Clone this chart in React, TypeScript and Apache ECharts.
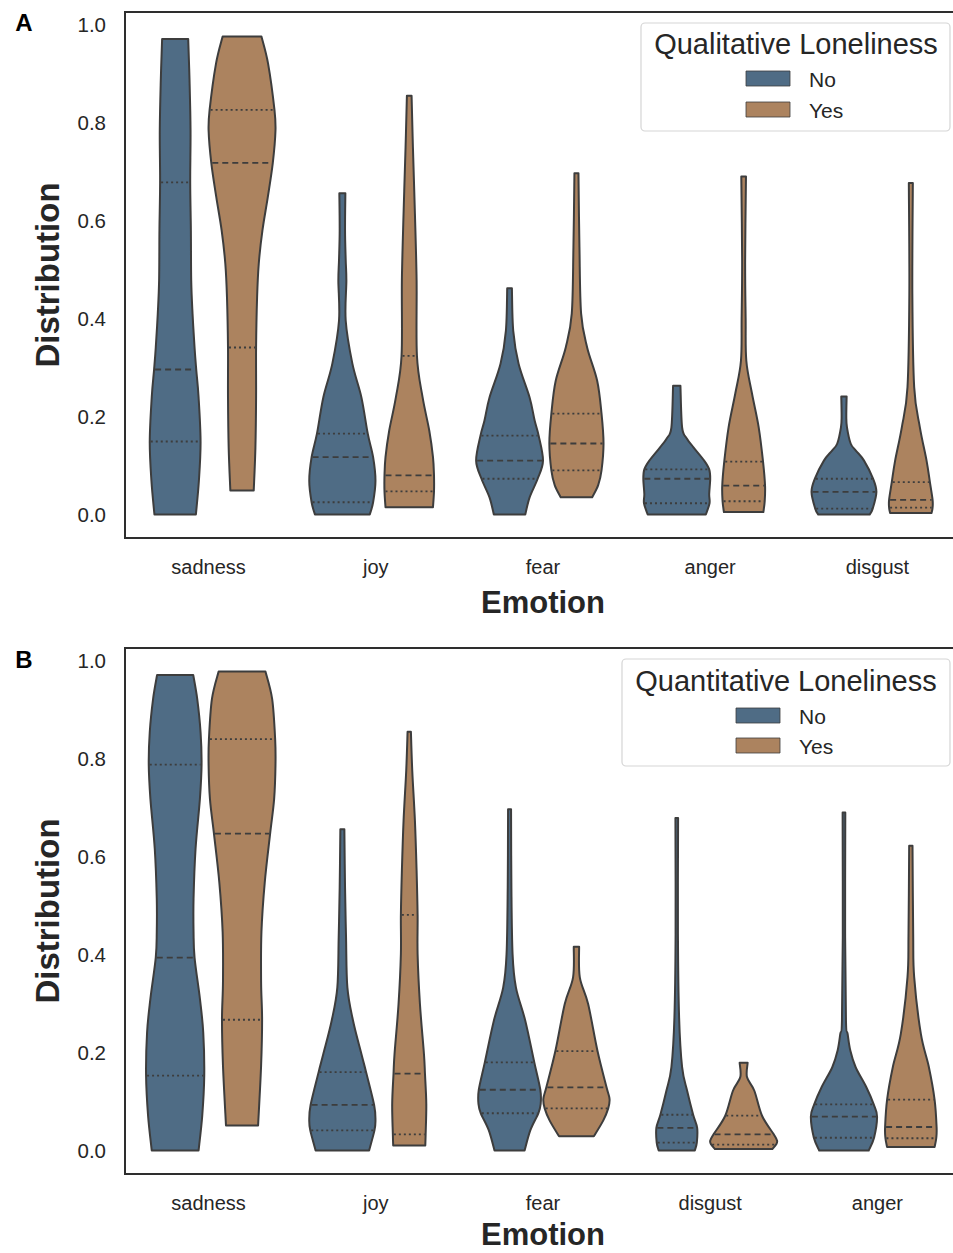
import { useEffect, useRef } from 'react';
import * as echarts from 'echarts';

type Profile = [number, number][]; // [value, relative half-width]

const CATEGORIES_A = ['sadness', 'joy', 'fear', 'anger', 'disgust'];
const CATEGORIES_B = ['sadness', 'joy', 'fear', 'disgust', 'anger'];
const HUES = ['No', 'Yes'];
const Y_TICKS = [0, 0.2, 0.4, 0.6, 0.8, 1.0];

// Panel A (Qualitative Loneliness) — density profiles, top to bottom
const A_NO_PROFILES: Profile[] = [
  [[0.971, 0.39], [0.886, 0.43], [0.784, 0.46], [0.678, 0.45], [0.58, 0.47], [0.478, 0.48], [0.41, 0.52], [0.341, 0.58], [0.296, 0.63], [0.24, 0.7], [0.149, 0.76], [0.069, 0.71], [0.0, 0.62]],
  [[0.656, 0.09], [0.58, 0.08], [0.52, 0.1], [0.478, 0.12], [0.396, 0.1], [0.308, 0.3], [0.239, 0.57], [0.165, 0.76], [0.117, 0.92], [0.069, 0.99], [0.025, 0.92], [0.0, 0.82]],
  [[0.462, 0.07], [0.375, 0.11], [0.308, 0.27], [0.239, 0.6], [0.192, 0.75], [0.161, 0.87], [0.11, 1.0], [0.073, 0.84], [0.035, 0.6], [0.0, 0.47]],
  [[0.263, 0.11], [0.178, 0.16], [0.155, 0.3], [0.137, 0.5], [0.11, 0.82], [0.092, 0.97], [0.073, 1.0], [0.042, 0.97], [0.023, 0.98], [0.0, 0.87]],
  [[0.241, 0.08], [0.2, 0.07], [0.178, 0.09], [0.145, 0.2], [0.131, 0.35], [0.11, 0.6], [0.073, 0.87], [0.046, 0.97], [0.012, 0.86], [0.0, 0.77]],
];
const A_YES_PROFILES: Profile[] = [
  [[0.976, 0.58], [0.92, 0.78], [0.826, 0.97], [0.784, 1.0], [0.718, 0.92], [0.648, 0.77], [0.58, 0.61], [0.512, 0.5], [0.443, 0.45], [0.341, 0.42], [0.24, 0.42], [0.137, 0.4], [0.049, 0.35]],
  [[0.855, 0.07], [0.75, 0.11], [0.614, 0.17], [0.478, 0.22], [0.324, 0.23], [0.239, 0.4], [0.171, 0.6], [0.117, 0.71], [0.08, 0.74], [0.047, 0.74], [0.015, 0.71]],
  [[0.697, 0.06], [0.546, 0.09], [0.41, 0.14], [0.341, 0.32], [0.273, 0.62], [0.206, 0.75], [0.145, 0.81], [0.09, 0.75], [0.06, 0.65], [0.035, 0.47]],
  [[0.69, 0.07], [0.518, 0.045], [0.4, 0.06], [0.314, 0.08], [0.247, 0.25], [0.178, 0.45], [0.108, 0.58], [0.059, 0.64], [0.027, 0.63], [0.005, 0.59]],
  [[0.677, 0.06], [0.45, 0.045], [0.26, 0.1], [0.178, 0.27], [0.11, 0.47], [0.066, 0.57], [0.03, 0.65], [0.014, 0.65], [0.003, 0.62]],
];
// [Q1, median, Q3]
const A_NO_QUARTILES = [[0.149, 0.296, 0.678], [0.025, 0.117, 0.165], [0.073, 0.11, 0.161], [0.023, 0.073, 0.092], [0.012, 0.046, 0.073]];
const A_YES_QUARTILES = [[0.341, 0.718, 0.826], [0.047, 0.08, 0.324], [0.09, 0.145, 0.206], [0.027, 0.059, 0.108], [0.014, 0.03, 0.066]];

// Panel B (Quantitative Loneliness)
const B_NO_PROFILES: Profile[] = [
  [[0.971, 0.54], [0.922, 0.66], [0.854, 0.76], [0.788, 0.79], [0.718, 0.74], [0.616, 0.61], [0.514, 0.55], [0.446, 0.55], [0.394, 0.58], [0.31, 0.74], [0.241, 0.84], [0.153, 0.87], [0.071, 0.81], [0.0, 0.7]],
  [[0.656, 0.06], [0.537, 0.08], [0.435, 0.11], [0.333, 0.15], [0.265, 0.32], [0.197, 0.57], [0.16, 0.71], [0.093, 0.95], [0.061, 0.99], [0.041, 0.96], [0.0, 0.8]],
  [[0.697, 0.045], [0.537, 0.055], [0.401, 0.09], [0.333, 0.19], [0.265, 0.47], [0.18, 0.74], [0.124, 0.92], [0.095, 0.93], [0.076, 0.86], [0.041, 0.62], [0.0, 0.45]],
  [[0.679, 0.04], [0.442, 0.035], [0.272, 0.07], [0.17, 0.16], [0.122, 0.31], [0.073, 0.49], [0.046, 0.61], [0.016, 0.6], [0.0, 0.54]],
  [[0.69, 0.04], [0.442, 0.035], [0.265, 0.06], [0.238, 0.11], [0.204, 0.19], [0.17, 0.35], [0.129, 0.67], [0.094, 0.89], [0.069, 0.99], [0.026, 0.9], [0.0, 0.74]],
];
const B_YES_PROFILES: Profile[] = [
  [[0.978, 0.7], [0.922, 0.9], [0.84, 0.99], [0.786, 1.0], [0.718, 0.96], [0.647, 0.84], [0.548, 0.68], [0.446, 0.58], [0.344, 0.57], [0.267, 0.6], [0.173, 0.57], [0.051, 0.48]],
  [[0.855, 0.05], [0.776, 0.09], [0.673, 0.17], [0.571, 0.22], [0.481, 0.25], [0.401, 0.25], [0.299, 0.32], [0.197, 0.44], [0.157, 0.47], [0.095, 0.51], [0.033, 0.49], [0.01, 0.48]],
  [[0.416, 0.08], [0.354, 0.1], [0.299, 0.35], [0.203, 0.63], [0.129, 0.9], [0.105, 0.99], [0.086, 0.95], [0.061, 0.8], [0.029, 0.52]],
  [[0.179, 0.12], [0.15, 0.1], [0.122, 0.32], [0.071, 0.55], [0.033, 0.9], [0.02, 1.0], [0.012, 0.97], [0.003, 0.86]],
  [[0.622, 0.05], [0.442, 0.07], [0.354, 0.1], [0.238, 0.3], [0.17, 0.54], [0.104, 0.71], [0.048, 0.77], [0.025, 0.76], [0.007, 0.71]],
];
const B_NO_QUARTILES = [[0.153, 0.394, 0.788], [0.041, 0.093, 0.16], [0.076, 0.124, 0.18], [0.016, 0.046, 0.073], [0.026, 0.069, 0.094]];
const B_YES_QUARTILES = [[0.267, 0.647, 0.84], [0.033, 0.157, 0.481], [0.086, 0.129, 0.203], [0.012, 0.033, 0.071], [0.025, 0.048, 0.104]];

const COLORS = ['#4f6c85', '#ac835f'];
const EDGE = '#3d3d3d';
const TEXT = '#262626';
const FONT = '"Liberation Sans", Arial, sans-serif';
const DODGE = 0.2;
const HALF_WIDTH = 0.2;

function densityAt(prof: Profile, v: number): number {
  for (let k = 0; k < prof.length - 1; k++) {
    const [v1, d1] = prof[k];
    const [v2, d2] = prof[k + 1];
    if (v <= v1 && v >= v2) {
      const t = v1 === v2 ? 0 : (v1 - v) / (v1 - v2);
      return d1 + (d2 - d1) * t;
    }
  }
  return v >= prof[0][0] ? prof[0][1] : prof[prof.length - 1][1];
}

function curve(pts: number[][]): string {
  let s = '';
  const n = pts.length;
  for (let j = 0; j < n - 1; j++) {
    const p0 = pts[Math.max(j - 1, 0)];
    const p1 = pts[j];
    const p2 = pts[j + 1];
    const p3 = pts[Math.min(j + 2, n - 1)];
    const c1x = p1[0] + (p2[0] - p0[0]) / 6;
    const c1y = p1[1] + (p2[1] - p0[1]) / 6;
    const c2x = p2[0] - (p3[0] - p1[0]) / 6;
    const c2y = p2[1] - (p3[1] - p1[1]) / 6;
    s += ` C${c1x.toFixed(2)},${c1y.toFixed(2)} ${c2x.toFixed(2)},${c2y.toFixed(2)} ${p2[0].toFixed(2)},${p2[1].toFixed(2)}`;
  }
  return s;
}

function violinRenderer(profiles: Profile[], quartiles: number[][], side: number, color: string) {
  return (params: any, api: any) => {
    const i = params.dataIndex;
    const prof = profiles[i];
    const band = api.size([1, 0])[0];
    const cx = api.coord([i, 0])[0] + side * DODGE * band;
    const hw = HALF_WIDTH * band;
    const right = prof.map(([v, d]) => [cx + d * hw, api.coord([i, v])[1]]);
    const left = prof.map(([v, d]) => [cx - d * hw, api.coord([i, v])[1]]);
    const n = prof.length;
    let d = `M${left[0][0].toFixed(2)},${left[0][1].toFixed(2)} L${right[0][0].toFixed(2)},${right[0][1].toFixed(2)}`;
    d += curve(right);
    d += ` L${left[n - 1][0].toFixed(2)},${left[n - 1][1].toFixed(2)}`;
    d += curve(left.slice().reverse());
    d += ' Z';
    const children: any[] = [
      { type: 'path', shape: { pathData: d }, style: { fill: color, stroke: EDGE, lineWidth: 2, lineJoin: 'round' } },
    ];
    quartiles[i].forEach((q, k) => {
      const w = densityAt(prof, q) * hw;
      const y = api.coord([i, q])[1];
      children.push({
        type: 'line',
        shape: { x1: cx - w + 1, y1: y, x2: cx + w - 1, y2: y },
        style: { stroke: EDGE, lineWidth: 1.8, lineDash: k === 1 ? [6, 4] : [2, 3] },
      });
    });
    return { type: 'group', children };
  };
}

function makeSeries(panel: number, cats: string[], noP: Profile[], noQ: number[][], yesP: Profile[], yesQ: number[][]) {
  return [
    { hue: 0, profiles: noP, q: noQ },
    { hue: 1, profiles: yesP, q: yesQ },
  ].map(({ hue, profiles, q }) => ({
    type: 'custom',
    name: HUES[hue],
    xAxisIndex: panel,
    yAxisIndex: panel,
    clip: false,
    itemStyle: { color: COLORS[hue] },
    encode: { x: 0, y: 1 },
    data: cats.map((_, i) => [i, profiles[i][0][0]]),
    renderItem: violinRenderer(profiles, q, hue === 0 ? -1 : 1, COLORS[hue]),
  }));
}

function legendGraphic(box: { x: number; y: number; w: number; h: number }, title: string, titleX: number, titleY: number, patchX: number, patchY: number[], textX: number) {
  const els: any[] = [
    { type: 'rect', shape: { x: box.x, y: box.y, width: box.w, height: box.h, r: 4 }, style: { fill: 'rgba(255,255,255,0.85)', stroke: '#d5d5d5', lineWidth: 1.2 }, z: 100 },
    { type: 'text', x: titleX, y: titleY, style: { text: title, fontSize: 29, fontFamily: FONT, fill: TEXT, align: 'center', verticalAlign: 'middle' }, z: 101 },
  ];
  HUES.forEach((h, k) => {
    els.push({ type: 'rect', shape: { x: patchX, y: patchY[k], width: 44, height: 15 }, style: { fill: COLORS[k], stroke: EDGE, lineWidth: 0.8 }, z: 101 });
    els.push({ type: 'text', x: textX, y: patchY[k] + 8, style: { text: h, fontSize: 21, fontFamily: FONT, fill: TEXT, align: 'left', verticalAlign: 'middle' }, z: 101 });
  });
  return els;
}

function xAxisFor(grid: number, cats: string[], nameGap: number) {
  return {
    type: 'category',
    gridIndex: grid,
    data: cats,
    axisLine: { show: false },
    axisTick: { show: false },
    splitLine: { show: false },
    axisLabel: { margin: 19, fontSize: 20, color: TEXT, fontFamily: FONT },
    name: 'Emotion',
    nameLocation: 'middle',
    nameGap,
    nameTextStyle: { fontSize: 31, fontWeight: 'bold', color: TEXT, fontFamily: FONT, lineHeight: 28 },
  };
}

function yAxisFor(grid: number) {
  return {
    type: 'value',
    gridIndex: grid,
    min: -0.048,
    max: 1.026,
    axisLine: { show: false },
    axisTick: { show: false },
    splitLine: { show: false },
    axisLabel: { customValues: Y_TICKS, formatter: (v: number) => v.toFixed(1), margin: 19, fontSize: 20.5, color: TEXT, fontFamily: FONT },
    name: 'Distribution',
    nameLocation: 'middle',
    nameGap: 61,
    nameTextStyle: { fontSize: 33, fontWeight: 'bold', color: TEXT, fontFamily: FONT, lineHeight: 33 },
  };
}

export default function App() {
  const ref = useRef<HTMLDivElement>(null);
  useEffect(() => {
    if (!ref.current) return;
    const chart = echarts.init(ref.current, null, { renderer: 'svg' });
    const gridBase = { left: 125, width: 836, height: 526, show: true, borderColor: '#2e2e2e', borderWidth: 2, backgroundColor: 'transparent', containLabel: false, outerBoundsMode: 'none' };
    const option: any = {
      animation: false,
      backgroundColor: '#ffffff',
      textStyle: { fontFamily: FONT },
      grid: [
        { ...gridBase, top: 12 },
        { ...gridBase, top: 648 },
      ],
      xAxis: [xAxisFor(0, CATEGORIES_A, 50), xAxisFor(1, CATEGORIES_B, 46)],
      yAxis: [yAxisFor(0), yAxisFor(1)],
      series: [
        ...makeSeries(0, CATEGORIES_A, A_NO_PROFILES, A_NO_QUARTILES, A_YES_PROFILES, A_YES_QUARTILES),
        ...makeSeries(1, CATEGORIES_B, B_NO_PROFILES, B_NO_QUARTILES, B_YES_PROFILES, B_YES_QUARTILES),
      ],
      graphic: [
        { type: 'text', x: 24, y: 22, style: { text: 'A', fontSize: 24, fontWeight: 'bold', fontFamily: FONT, fill: '#000', align: 'center', verticalAlign: 'middle' } },
        { type: 'text', x: 24, y: 659, style: { text: 'B', fontSize: 24, fontWeight: 'bold', fontFamily: FONT, fill: '#000', align: 'center', verticalAlign: 'middle' } },
        ...legendGraphic({ x: 641, y: 23, w: 309, h: 108 }, 'Qualitative Loneliness', 796, 44, 746, [71, 102], 809),
        ...legendGraphic({ x: 622, y: 659, w: 328, h: 107 }, 'Quantitative Loneliness', 786, 681, 736, [708, 738], 799),
      ],
    };
    chart.setOption(option);
    return () => chart.dispose();
  }, []);
  return (
    <div style={{ position: 'absolute', left: 0, top: 0, width: 953, height: 1253, overflow: 'hidden', background: '#fff' }}>
      <div ref={ref} style={{ width: 980, height: 1253 }} />
    </div>
  );
}
